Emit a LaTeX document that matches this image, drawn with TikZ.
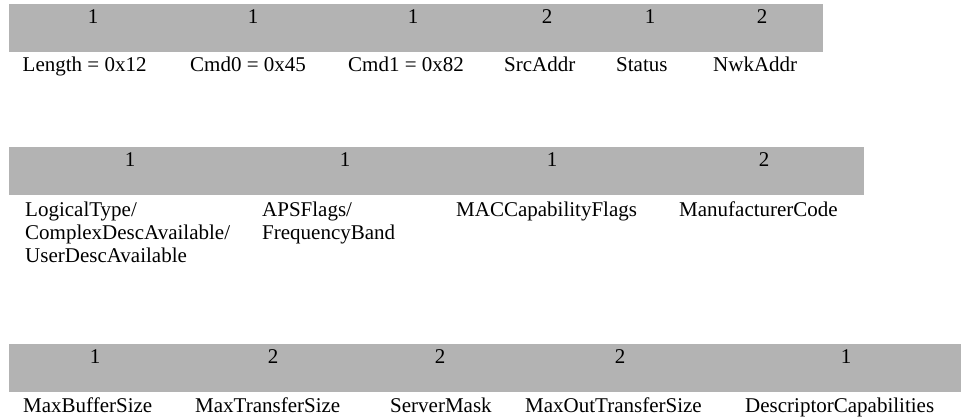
\documentclass[tikz,border=0pt]{standalone}
\usepackage{fontspec}
\setmainfont{Liberation Serif}
\definecolor{barg}{RGB}{179,179,179}
\newcommand\dgfont{\fontsize{21}{23}\selectfont}
\begin{document}
\begin{tikzpicture}[x=1pt,y=-1pt,
  bar/.style={fill=barg},
  num/.style={anchor=base, inner sep=0pt, font=\dgfont},
  lab/.style={anchor=base west, inner sep=0pt, font=\dgfont}]
\useasboundingbox (0,0) rectangle (961,419);
% bar 1
\fill[bar] (9,4) rectangle (823,52);
\node[num] (a1) at (93,24) {1};
\node[num] (a2) at (253,24) {1};
\node[num] (a3) at (413,24) {1};
\node[num] (a4) at (547,24) {2};
\node[num] (a5) at (650,24) {1};
\node[num] (a6) at (762,24) {2};
\node[lab] (la1) at (22.5,72) {Length = 0x12};
\node[lab] (la2) at (190,72) {Cmd0 = 0x45};
\node[lab] (la3) at (348,72) {Cmd1 = 0x82};
\node[lab] (la4) at (504,72) {SrcAddr};
\node[lab] (la5) at (616,72) {Status};
\node[lab] (la6) at (713,72) {NwkAddr};
% bar 2
\fill[bar] (9,147) rectangle (864,195);
\node[num] (b1) at (130,167) {1};
\node[num] (b2) at (345,167) {1};
\node[num] (b3) at (552,167) {1};
\node[num] (b4) at (764,167) {2};
\node[lab] (lb1a) at (25,217) {LogicalType/};
\node[lab] (lb1b) at (25,240) {ComplexDescAvailable/};
\node[lab] (lb1c) at (25,263) {UserDescAvailable};
\node[lab] (lb2a) at (262,217) {APSFlags/};
\node[lab] (lb2b) at (262,240) {FrequencyBand};
\node[lab] (lb3) at (456,217) {MACCapabilityFlags};
\node[lab] (lb4) at (679,217) {ManufacturerCode};
% bar 3
\fill[bar] (9,344) rectangle (961,392);
\node[num] (c1) at (95,364) {1};
\node[num] (c2) at (273,364) {2};
\node[num] (c3) at (440,364) {2};
\node[num] (c4) at (620,364) {2};
\node[num] (c5) at (846,364) {1};
\node[lab] (lc1) at (23,412) {MaxBufferSize};
\node[lab] (lc2) at (195,412) {MaxTransferSize};
\node[lab] (lc3) at (390,412) {ServerMask};
\node[lab] (lc4) at (525,412) {MaxOutTransferSize};
\node[lab] (lc5) at (745,412) {DescriptorCapabilities};
\end{tikzpicture}
\end{document}
